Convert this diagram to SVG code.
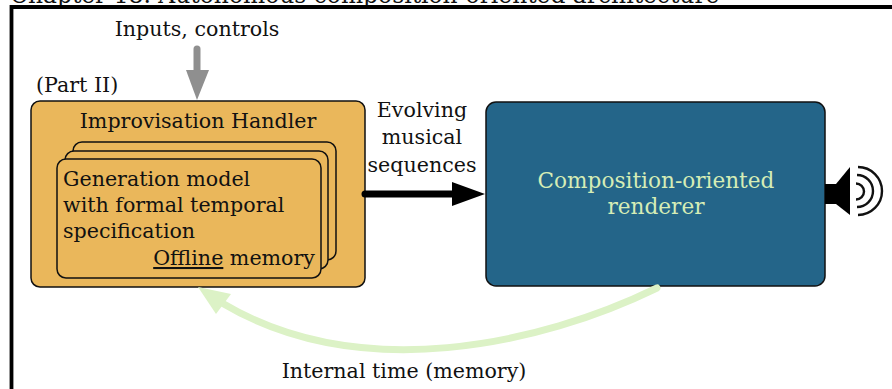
<svg xmlns="http://www.w3.org/2000/svg" width="892" height="389" viewBox="0 0 892 389">
<style>
text{font-family:"DejaVu Serif","Liberation Serif",serif;fill:#111;}
.t{font-size:20.6px;}
.r{font-size:21.6px;fill:#D6EDB6;}
.card{fill:#EAB75B;stroke:#111;stroke-width:1.5;}
</style>
<rect width="892" height="389" fill="#fff"/>
<text x="10" y="3" style="font-size:23.4px">Chapter 18. Autonomous composition-oriented architecture</text>
<path d="M11.5,395 V7 H900" fill="none" stroke="#000" stroke-width="3.8"/>

<g id="inputs">
<text class="t" x="197" y="36" text-anchor="middle">Inputs, controls</text>
</g>
<g id="part2"><text class="t" x="36" y="92">(Part II)</text></g>

<g id="handler">
<rect x="31" y="101" width="334" height="186" rx="9" class="card"/>
<text class="t" x="198" y="128" text-anchor="middle">Improvisation Handler</text>
<rect x="73" y="142" width="263" height="118" rx="9" class="card"/>
<rect x="65" y="151" width="263" height="118" rx="9" class="card"/>
<rect x="57" y="159" width="264" height="119" rx="9" class="card"/>
<text class="t" x="63" y="186">Generation model</text>
<text class="t" x="63" y="212">with formal temporal</text>
<text class="t" x="63" y="238">specification</text>
<text class="t" x="315" y="265" text-anchor="end"><tspan text-decoration="underline">Offline</tspan> memory</text>
</g>

<g id="renderer">
<rect x="486" y="102" width="339" height="184" rx="10" fill="#246589" stroke="#111" stroke-width="1.5"/>
<text class="r" x="656" y="188" text-anchor="middle">Composition-oriented</text>
<text class="r" x="656" y="214" text-anchor="middle">renderer</text>
</g>

<g id="speaker">
<rect x="825" y="184" width="12" height="20" fill="#000"/>
<path d="M836,184 L850,167 L850,215 L836,204 Z" fill="#000"/>
<g fill="none" stroke="#111" stroke-width="2.4">
<path d="M856,183.5 A8,8 0 0 1 856,199.5"/>
<path d="M857,175 A16,16 0 0 1 857,207"/>
<path d="M858,167 A24,24 0 0 1 858,215"/>
</g>
</g>

<g id="seqlabel">
<text class="t" x="422" y="117" text-anchor="middle">Evolving</text>
<text class="t" x="422" y="144" text-anchor="middle">musical</text>
<text class="t" x="422" y="172" text-anchor="middle">sequences</text>
</g>

<g id="timelabel"><text class="t" x="404" y="378" text-anchor="middle">Internal time (memory)</text></g>

<g id="connectors">
<line x1="197" y1="49" x2="197" y2="72" stroke="#8F8F8F" stroke-width="7" stroke-linecap="round"/>
<path d="M186,70 L209,70 L197,100 Z" fill="#8F8F8F"/>
<line x1="365" y1="194" x2="454" y2="194" stroke="#000" stroke-width="7" stroke-linecap="round"/>
<path d="M452,182 L485,194 L452,206 Z" fill="#000"/>
<path d="M657,288 C540,345 360,385 222,303" fill="none" stroke="#DCF2C6" stroke-width="7" stroke-linecap="round"/>
<path d="M198,287 L231,294 L216,314 Z" fill="#DCF2C6"/>
</g>
</svg>
